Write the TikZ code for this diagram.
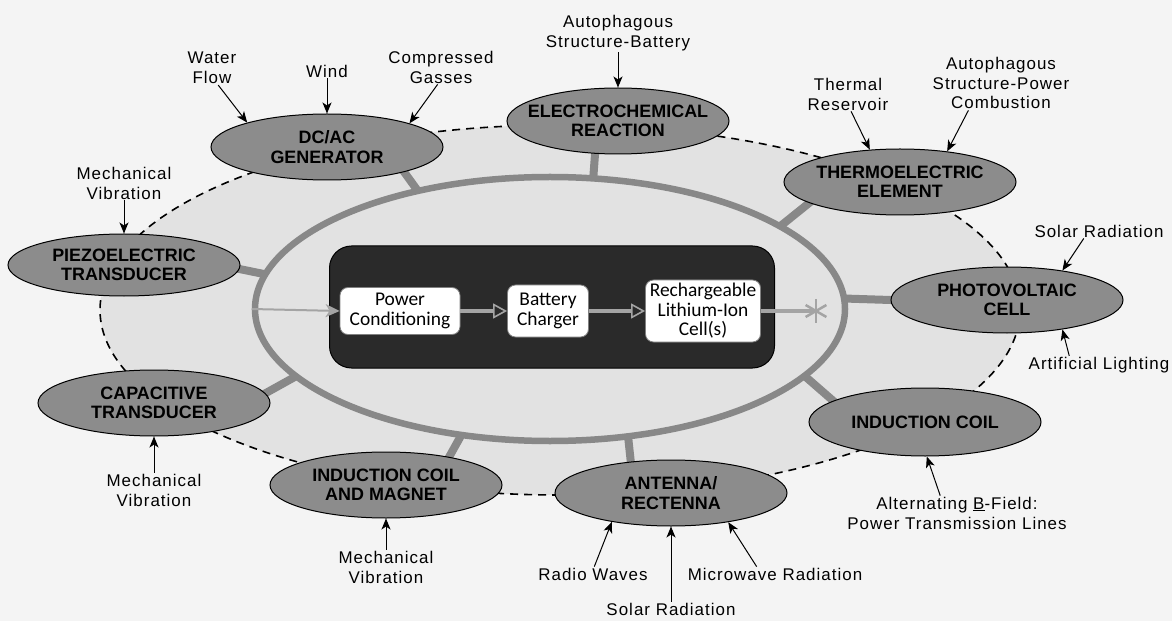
\documentclass[tikz,border=0pt]{standalone}
\usepackage{fontspec}
\setmainfont{Liberation Sans}
\newfontfamily\lblfont[LetterSpace=6]{Liberation Sans}
\newfontfamily\boxfont{Carlito}
\usetikzlibrary{shapes.geometric,arrows.meta}
\pgfdeclarelayer{back}
\pgfdeclarelayer{bg}
\pgfsetlayers{back,bg,main}
\definecolor{pagebg}{HTML}{F4F4F4}
\definecolor{zone}{HTML}{E2E2E2}
\definecolor{blobfill}{HTML}{8C8C8C}
\definecolor{ringgray}{HTML}{888888}
\definecolor{coregray}{HTML}{2A2A2A}
\definecolor{flowgray}{HTML}{A4A4A4}
\tikzset{
  blob/.style={ellipse, draw=black, line width=1bp, fill=blobfill, minimum width=232bp, minimum height=66bp, inner sep=0pt},
  blobtxt/.style={font=\bfseries\fontsize{18}{19.5}\selectfont, align=center, inner sep=0pt, text=black},
  lbl/.style={font=\lblfont\fontsize{17}{20}\selectfont, align=center, inner sep=1bp},
  src/.style={draw=black, line width=1bp, -{Stealth[length=11bp,width=9bp,inset=3bp]}},
  conn/.style={draw=ringgray, line width=8bp, shorten <=-6bp, shorten >=-2bp},
  inbox/.style={rectangle, rounded corners=8bp, fill=white, draw=gray, line width=0.8bp, font=\boxfont\fontsize{19.5}{19.5}\selectfont, align=center, inner sep=2bp},
  flow/.style={draw=flowgray, line width=3.5bp, -{Triangle[open, length=14bp, width=15bp, line width=1.6bp]}},
}
\begin{document}
\begin{tikzpicture}[x=1bp,y=-1bp]
\useasboundingbox (0,0) rectangle (1172,621);
\begin{pgfonlayer}{back}
  \fill[pagebg] (0,0) rectangle (1172,621);
  \node[ellipse, draw=black, fill=zone, line width=1.6bp, dash pattern=on 8bp off 6bp, minimum width=920bp, minimum height=370bp, inner sep=0pt] (outline) at (560,310) {};
\end{pgfonlayer}

% central ring
\node[ellipse, draw=ringgray, line width=6.5bp, minimum width=590bp, minimum height=264bp, inner sep=0pt] (ring) at (550,309) {};

% harvesting elements
\node[blob, label={[blobtxt]center:{DC/AC\\GENERATOR}}] (dcac) at (327,147) {};
\node[blob, minimum width=222bp, label={[blobtxt]center:{ELECTROCHEMICAL\\REACTION}}] (electro) at (618,121) {};
\node[blob, label={[blobtxt]center:{THERMOELECTRIC\\ELEMENT}}] (thermo) at (900,182) {};
\node[blob, label={[blobtxt]center:{PHOTOVOLTAIC\\CELL}}] (pv) at (1007,300) {};
\node[blob, minimum height=68bp, label={[blobtxt]center:{INDUCTION COIL}}] (ic) at (925,422) {};
\node[blob, label={[blobtxt]center:{ANTENNA/\\RECTENNA}}] (ant) at (671,493) {};
\node[blob, label={[blobtxt]center:{INDUCTION COIL\\AND MAGNET}}] (icm) at (386,485) {};
\node[blob, label={[blobtxt]center:{CAPACITIVE\\TRANSDUCER}}] (cap) at (154,403) {};
\node[blob, minimum height=62bp, label={[blobtxt]center:{PIEZOELECTRIC\\TRANSDUCER}}] (piezo) at (124,265) {};

% connectors to the ring
\begin{pgfonlayer}{bg}
  \draw[conn] (dcac.-18) -- (ring.138);
  \draw[conn] (electro.-125) -- (ring.72);
  \draw[conn] (thermo.-167) -- (ring.20);
  \draw[conn] (pv.180) -- (ring.2);
  \draw[conn] (ic.167) -- (ring.-15);
  \draw[conn] (ant.142) -- (ring.-59);
  \draw[conn] (icm.24) -- (ring.-125);
  \draw[conn] (cap.5) -- (ring.-165);
  \draw[conn] (piezo.-2) -- (ring.173);
\end{pgfonlayer}

% core block
\node[rectangle, rounded corners=22bp, fill=coregray, draw=black, line width=1bp, minimum width=445bp, minimum height=122bp] (core) at (552,307) {};
\node[inbox, minimum width=120bp, minimum height=47bp] (pc) at (400,311) {Power\\Conditioning};
\node[inbox, minimum width=81bp, minimum height=52bp] (bc) at (548,311) {Battery\\Charger};
\node[inbox, minimum width=115bp, minimum height=62bp] (rl) at (703,311) {Rechargeable\\Lithium-Ion\\Cell(s)};
\coordinate (star) at (816,311);
\draw[draw=flowgray, line width=2bp, -{Stealth[length=14bp,width=13bp,inset=4bp]}] (ring.180) -- (pc.west);
\draw[flow] (pc.east) -- (bc.west);
\draw[flow] (bc.east) -- (rl.west);
\draw[draw=flowgray, line width=3.5bp] (rl.east) -- (star);
\foreach \a in {90,30,150}
  \draw[draw=flowgray, line width=2.5bp] (star) ++(\a:12bp) -- ++(\a+180:24bp);

% sources
\node[lbl] (waterflow) at (212,68) {Water\\Flow};
\draw[src] (waterflow.-70) -- (dcac.163);
\node[lbl] (wind) at (327,71) {Wind};
\draw[src] (wind.south) -- (dcac.north);
\node[lbl] (gasses) at (441,67) {Compressed\\Gasses};
\draw[src] (gasses.-101) -- (dcac.16);
\node[lbl] (mv1) at (124,183) {Mechanical\\Vibration};
\draw[src] (mv1.south) -- (piezo.north);
\node[lbl] (asb) at (618,33) {Autophagous\\Structure-Battery};
\draw[src] (asb.south) -- (electro.north);
\node[lbl] (thermal) at (848,94) {Thermal\\Reservoir};
\draw[src] (thermal.-80) -- (thermo.133);
\node[lbl] (aspc) at (1001,83) {Autophagous\\Structure-Power\\Combustion};
\draw[src] (aspc.-140) -- (thermo.33);
\node[lbl] (sr1) at (1099,231) {Solar Radiation};
\draw[src] (sr1.-154) -- (pv.28);
\node[lbl] (al) at (1099,365) {Artificial Lighting};
\draw[src] (al.163) -- (pv.-28);
\node[lbl] (ab) at (957,513) {Alternating \underline{B}-Field:\\Power Transmission Lines};
\draw[src] (ab.134) -- (ic.-87);
\node[lbl] (mw) at (775,574) {Microwave Radiation};
\draw[src] (mw.158) -- (ant.-27);
\node[lbl] (sr2) at (671,609) {Solar Radiation};
\draw[src] (sr2.north) -- (ant.south);
\node[lbl] (rw) at (593,574) {Radio Waves};
\draw[src] (rw.80) -- (ant.-154);
\node[lbl] (mv3) at (386,567) {Mechanical\\Vibration};
\draw[src] (mv3.north) -- (icm.south);
\node[lbl] (mv2) at (154,490) {Mechanical\\Vibration};
\draw[src] (mv2.north) -- (cap.south);
\end{tikzpicture}
\end{document}
